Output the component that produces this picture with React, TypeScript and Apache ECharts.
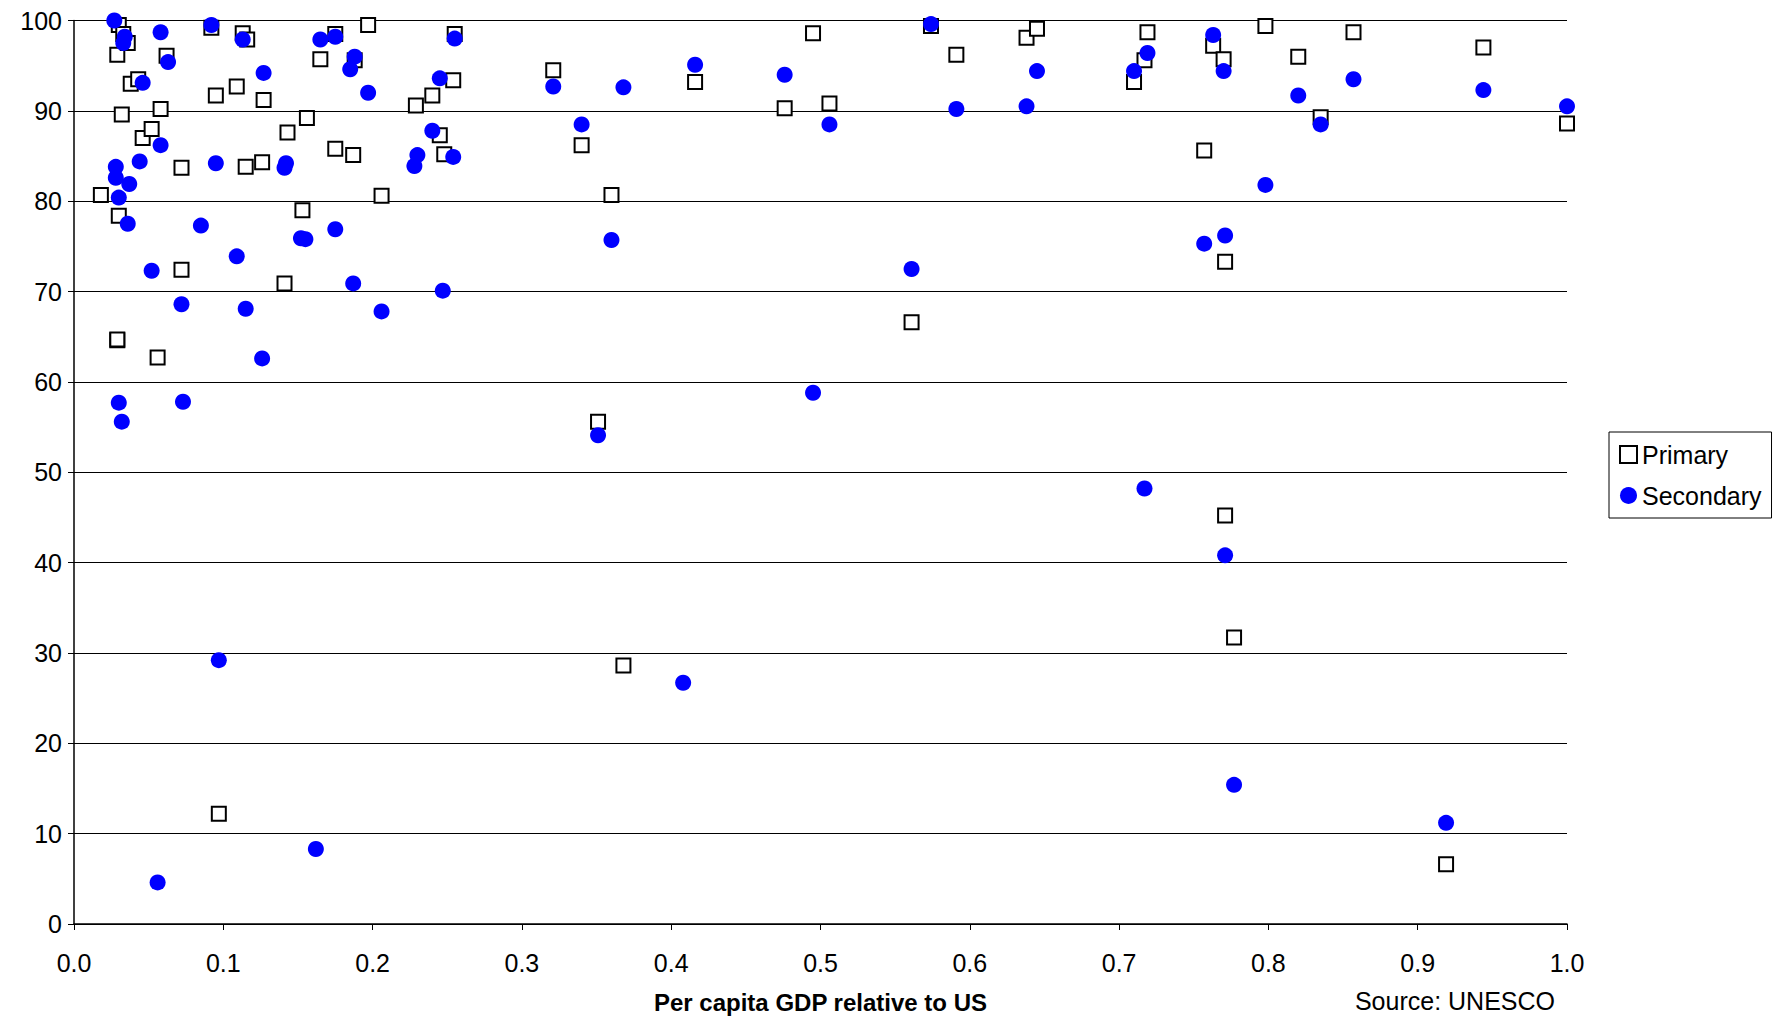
import React, { useEffect, useRef } from "react";
import * as echarts from "echarts";

const primaryX = [0.018, 0.03, 0.029, 0.033, 0.036, 0.032, 0.038, 0.043, 0.03, 0.046, 0.052, 0.058, 0.062, 0.029, 0.029, 0.056, 0.072, 0.072, 0.092, 0.095, 0.109, 0.113, 0.116, 0.115, 0.126, 0.127, 0.143, 0.141, 0.153, 0.156, 0.165, 0.175, 0.175, 0.187, 0.188, 0.197, 0.206, 0.097, 0.229, 0.24, 0.245, 0.248, 0.254, 0.255, 0.321, 0.34, 0.36, 0.351, 0.368, 0.416, 0.476, 0.495, 0.506, 0.561, 0.574, 0.591, 0.638, 0.645, 0.71, 0.717, 0.719, 0.757, 0.763, 0.77, 0.771, 0.771, 0.777, 0.798, 0.82, 0.835, 0.857, 0.944, 0.919, 1.0];
const primaryY = [80.7, 99.5, 96.2, 98.5, 97.5, 89.6, 93, 93.5, 78.4, 87, 88, 90.2, 96.1, 64.6, 64.7, 62.7, 83.7, 72.4, 99.2, 91.7, 92.7, 98.6, 97.9, 83.8, 84.3, 91.2, 87.6, 70.9, 79, 89.2, 95.7, 98.5, 85.8, 85.1, 95.6, 99.5, 80.6, 12.2, 90.6, 91.7, 87.3, 85.2, 93.4, 98.5, 94.5, 86.2, 80.7, 55.6, 28.6, 93.2, 90.3, 98.6, 90.8, 66.6, 99.4, 96.2, 98.1, 99.1, 93.2, 95.6, 98.7, 85.6, 97.2, 95.7, 73.3, 45.2, 31.7, 99.4, 96, 89.3, 98.7, 97, 6.6, 88.6];

const secondaryX = [0.027, 0.028, 0.028, 0.03, 0.033, 0.034, 0.037, 0.036, 0.044, 0.046, 0.058, 0.058, 0.063, 0.052, 0.03, 0.032, 0.072, 0.073, 0.056, 0.085, 0.092, 0.095, 0.097, 0.109, 0.113, 0.115, 0.127, 0.126, 0.141, 0.142, 0.152, 0.155, 0.162, 0.165, 0.175, 0.175, 0.187, 0.188, 0.185, 0.197, 0.206, 0.228, 0.23, 0.24, 0.245, 0.247, 0.254, 0.255, 0.321, 0.34, 0.36, 0.368, 0.351, 0.408, 0.416, 0.476, 0.495, 0.506, 0.561, 0.574, 0.591, 0.638, 0.645, 0.71, 0.717, 0.719, 0.757, 0.763, 0.77, 0.771, 0.771, 0.777, 0.798, 0.82, 0.835, 0.857, 0.944, 0.919, 1.0];
const secondaryY = [100, 83.8, 82.6, 80.4, 97.5, 98.2, 81.9, 77.5, 84.4, 93.1, 98.7, 86.2, 95.4, 72.3, 57.7, 55.6, 68.6, 57.8, 4.6, 77.3, 99.5, 84.2, 29.2, 73.9, 97.9, 68.1, 94.2, 62.6, 83.7, 84.2, 75.9, 75.8, 8.3, 97.9, 98.2, 76.9, 70.9, 96, 94.6, 92, 67.8, 83.9, 85.1, 87.8, 93.6, 70.1, 84.9, 98, 92.7, 88.5, 75.7, 92.6, 54.1, 26.7, 95.1, 94, 58.8, 88.5, 72.5, 99.6, 90.2, 90.5, 94.4, 94.4, 48.2, 96.4, 75.3, 98.4, 94.4, 76.2, 40.8, 15.4, 81.8, 91.7, 88.5, 93.5, 92.3, 11.2, 90.5];

const zip = (xs: number[], ys: number[]) => xs.map((x, i) => [x, ys[i]]);
const font = "Liberation Sans, Arial, sans-serif";

export default function App() {
  const ref = useRef<HTMLDivElement>(null);

  useEffect(() => {
    if (!ref.current) return;
    const chart = echarts.init(ref.current, null, { renderer: "svg" });
    chart.setOption({
      animation: false,
      backgroundColor: "#fff",
      textStyle: { fontFamily: font },
      grid: { left: 66, right: 209, top: 10, bottom: 87 },
      xAxis: {
        type: "value", min: 0, max: 1, interval: 0.1,
        name: "Per capita GDP relative to US", nameLocation: "middle", nameGap: 66,
        nameTextStyle: { fontSize: 24, fontWeight: "bold", color: "#000", fontFamily: font },
        axisLine: { lineStyle: { color: "#000", width: 1.5 } },
        axisTick: { show: true, length: 6, lineStyle: { color: "#000" } },
        axisLabel: { fontSize: 25, color: "#000", margin: 26, formatter: (v: number) => v.toFixed(1) },
        splitLine: { show: false },
      },
      yAxis: {
        type: "value", min: 0, max: 100, interval: 10,
        axisLine: { show: true, lineStyle: { color: "#000", width: 1.5 } },
        axisTick: { show: true, length: 6, lineStyle: { color: "#000" } },
        axisLabel: { fontSize: 25, color: "#000", margin: 12 },
        splitLine: { lineStyle: { color: "#000", width: 1 } },
      },
      legend: {
        orient: "vertical", left: 1601, top: 424, padding: [10, 10, 10, 10],
        borderColor: "#000", borderWidth: 1, itemGap: 16, itemWidth: 17, itemHeight: 17,
        textStyle: { fontSize: 25, color: "#000", fontFamily: font },
        data: ["Primary", "Secondary"],
      },
      graphic: [{
        type: "text", right: 221, top: 980,
        style: { text: "Source: UNESCO", fontSize: 25, fill: "#000", fontFamily: font },
      }],
      series: [
        {
          name: "Primary", type: "scatter", data: zip(primaryX, primaryY),
          symbol: "rect", symbolSize: 14,
          itemStyle: { color: "#fff", borderColor: "#000", borderWidth: 2, opacity: 1 },
        },
        {
          name: "Secondary", type: "scatter", data: zip(secondaryX, secondaryY),
          symbol: "circle", symbolSize: 16,
          itemStyle: { color: "#0000ff", opacity: 1 },
        },
      ],
    });
    return () => chart.dispose();
  }, []);

  return <div ref={ref} style={{ width: 1768, height: 1011 }} />;
}
